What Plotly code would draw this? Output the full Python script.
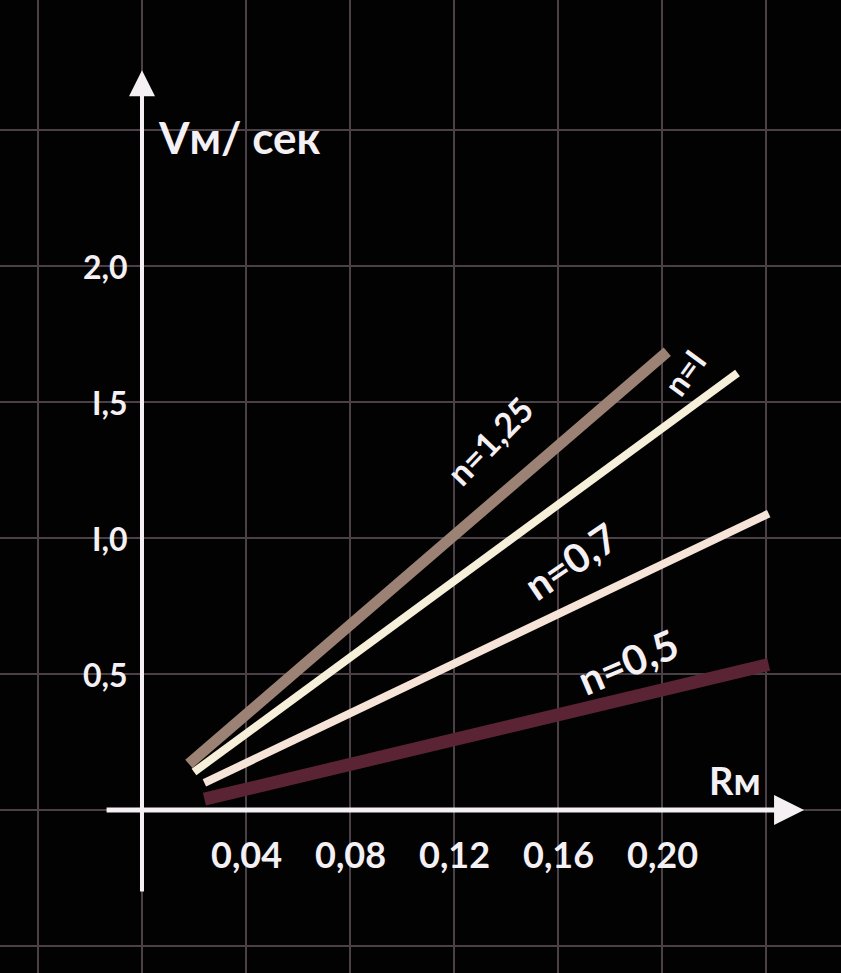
import plotly.graph_objects as go

# series: start / end points (x in m, y in m/s)
n_labels = ["n=1,25", "n=I", "n=0,7", "n=0,5"]
r_values = [
    [0.018, 0.202],
    [0.020, 0.229],
    [0.024, 0.241],
    [0.024, 0.241],
]
v_values = [
    [0.17, 1.685],
    [0.14, 1.607],
    [0.10, 1.09],
    [0.04, 0.535],
]
line_colors = ["#9c8274", "#f6f0da", "#f6e4d8", "#5a2434"]
line_widths = [11, 8, 8, 13]

# label positions along the lines
label_x = [0.1335, 0.2085, 0.1650, 0.187]
label_y = [1.36, 1.61, 0.915, 0.545]
label_angle = [-46, -54, -34, -23]
label_size = [34, 32, 40, 41]

x_ticks = [0.04, 0.08, 0.12, 0.16, 0.20]
x_tick_text = ["0,04", "0,08", "0,12", "0,16", "0,20"]
y_ticks = [0.5, 1.0, 1.5, 2.0]
y_tick_text = ["0,5", "I,0", "I,5", "2,0"]

FONT = "Lato"
WHITE = "#f4f0f4"
fig = go.Figure()

for name, xs, ys, color, width in zip(n_labels, r_values, v_values, line_colors, line_widths):
    fig.add_trace(
        go.Scatter(
            x=xs,
            y=ys,
            mode="lines",
            name=name,
            line={"color": color, "width": width},
            showlegend=False,
        )
    )

# axes with arrows
fig.add_annotation(
    x=0, y=2.72, ax=0, ay=-0.305, xref="x", yref="y", axref="x", ayref="y",
    showarrow=True, arrowhead=2, arrowsize=1.3, arrowwidth=4, arrowcolor=WHITE, text="",
)
fig.add_annotation(
    x=0.2546, y=0, ax=-0.0142, ay=0, xref="x", yref="y", axref="x", ayref="y",
    showarrow=True, arrowhead=2, arrowsize=1.2, arrowwidth=5, arrowcolor=WHITE, text="",
)

for x, t in zip(x_ticks, x_tick_text):
    fig.add_annotation(
        x=x, y=-0.16, text=t, showarrow=False,
        font={"family": FONT, "size": 36, "color": WHITE, "weight": "bold"},
    )
for y, t in zip(y_ticks, y_tick_text):
    fig.add_annotation(
        x=-0.0045, y=y, text=t, showarrow=False, xanchor="right",
        font={"family": FONT, "size": 32, "color": WHITE, "weight": "bold"},
    )

for t, x, y, a, s in zip(n_labels, label_x, label_y, label_angle, label_size):
    fig.add_annotation(
        x=x, y=y, text=t, showarrow=False, textangle=a,
        font={"family": FONT, "size": s, "color": WHITE, "weight": "bold"},
    )

fig.add_annotation(
    x=0.0055, y=2.474, text="Vм/ сек", showarrow=False, xanchor="left",
    font={"family": FONT, "size": 44, "color": WHITE, "weight": "bold"},
)
fig.add_annotation(
    x=0.228, y=0.11, text="Rм", showarrow=False,
    font={"family": FONT, "size": 38, "color": WHITE, "weight": "bold"},
)

grid = {"showgrid": True, "gridcolor": "#4a4046", "gridwidth": 2,
        "zeroline": False, "showticklabels": False, "ticks": "", "showline": False}

fig.update_layout(
    width=841,
    height=973,
    margin={"l": 0, "r": 0, "t": 0, "b": 0},
    paper_bgcolor="#020202",
    plot_bgcolor="#020202",
    xaxis={**grid, "range": [-0.0546, 0.2688], "tick0": 0, "dtick": 0.04},
    yaxis={**grid, "range": [-0.599, 2.978], "tick0": 0, "dtick": 0.5},
)

fig.write_html(
    "out.html",
    config={"displayModeBar": False},
    post_script="document.body.style.margin='0';document.body.style.background='#020202';",
)
